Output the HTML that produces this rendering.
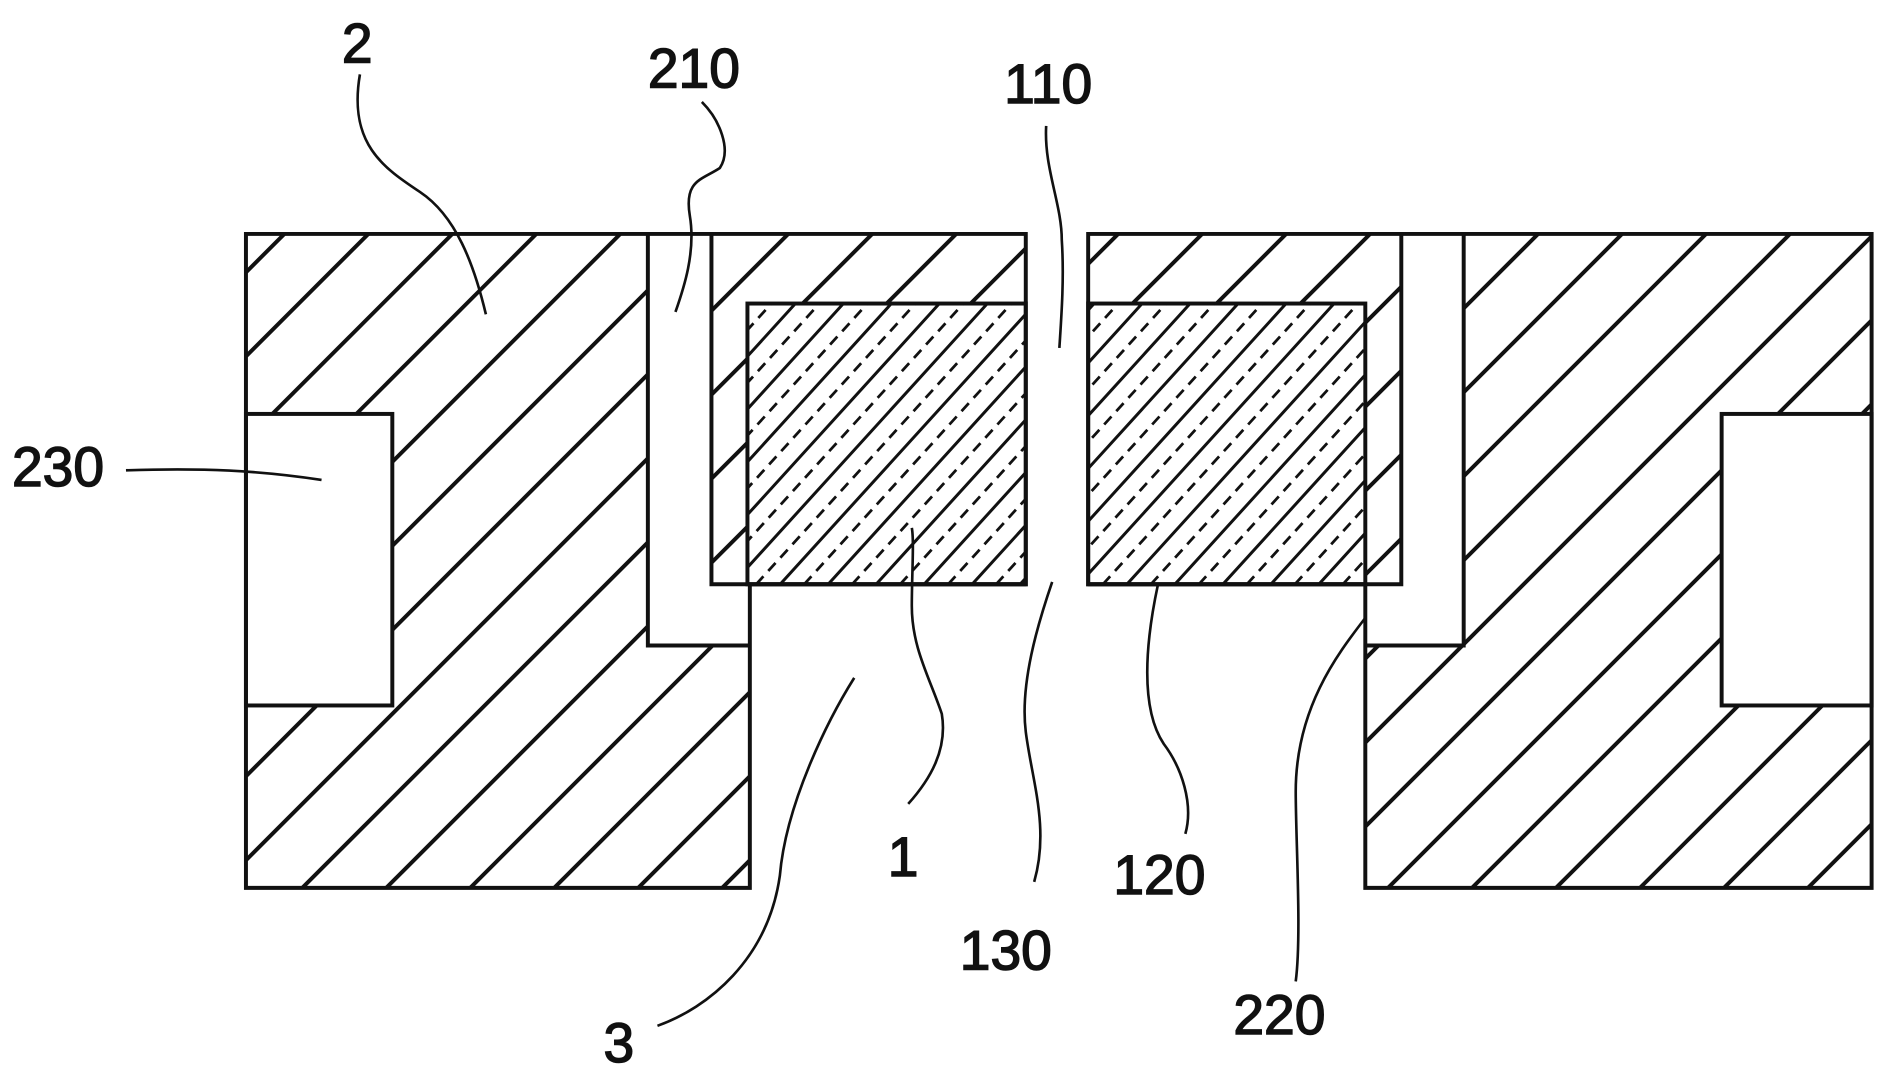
<!DOCTYPE html>
<html><head><meta charset="utf-8"><style>
html,body{margin:0;padding:0;background:#fff;}
svg{display:block;}
text{font-family:"Liberation Sans","DejaVu Sans",sans-serif;font-size:46px;fill:#111;stroke:#111;stroke-width:1.2px;}
</style></head><body>
<svg id="s" width="1880" height="1075" viewBox="0 0 1567 896" preserveAspectRatio="none" xmlns="http://www.w3.org/2000/svg">
<defs>
<clipPath id="cl"><path d="M205,195 H855 V487 H625 V740 H205 Z"/></clipPath>
<clipPath id="cr"><path d="M907,195 H1560 V740 H1138 V487 H907 Z"/></clipPath>
<clipPath id="c1"><rect x="623" y="253" width="232" height="234"/></clipPath>
<clipPath id="c2"><rect x="907" y="253" width="231" height="234"/></clipPath>
</defs>
<g id="hl" clip-path="url(#cl)" stroke="#111" stroke-width="3.3"></g>
<g id="hr" clip-path="url(#cr)" stroke="#111" stroke-width="3.3"></g>
<g fill="#fff" stroke="none">
<rect x="540" y="195" width="53" height="343"/>
<rect x="540" y="487" width="85" height="51"/>
<rect x="205" y="345" width="122" height="243"/>
<rect x="1138" y="487" width="82" height="51"/>
<rect x="1168" y="195" width="52" height="343"/>
<rect x="1435" y="345" width="125" height="243"/>
<rect x="623" y="253" width="232" height="234"/>
<rect x="907" y="253" width="231" height="234"/>
</g>
<g id="k1" clip-path="url(#c1)" stroke="#111"></g>
<g id="k2" clip-path="url(#c2)" stroke="#111"></g>
<g stroke="#111" stroke-width="3.3" fill="none">
<path d="M205,195 H855 V487 H625 V740 H205 Z"/>
<path d="M540,195 V538 H625 M593,195 V487 H855"/>
<rect x="205" y="345" width="122" height="243"/>
<rect x="623" y="253" width="232" height="234"/>
<path d="M907,195 H1560 V740 H1138 V487 H907 Z"/>
<path d="M1168,195 V487 H907 M1220,195 V538 H1138"/>
<rect x="1435" y="345" width="125" height="243"/>
<rect x="907" y="253" width="231" height="234"/>
<g stroke-width="2.2">
<path d="M300,62 C290,120 320,140 350,160 C380,180 395,220 405,262"/>
<path d="M585,85 C600,100 610,125 600,140 C585,150 570,150 575,180 C580,210 570,240 563,260"/>
<path d="M872,105 C870,140 885,170 885,200 C887,230 885,260 883,290"/>
<path d="M105,392 C170,390 215,392 268,400"/>
<path d="M757,670 C775,650 790,625 785,595 C775,565 760,540 760,505 C760,480 762,450 760,440"/>
<path d="M877,485 C865,520 850,570 855,610 C860,650 875,690 862,735"/>
<path d="M988,695 C995,670 985,640 970,620 C950,590 955,535 965,488"/>
<path d="M1080,818 C1085,780 1080,700 1080,660 C1080,590 1115,545 1138,515"/>
<path d="M548,855 C590,840 640,800 650,730 C655,670 690,600 712,565"/>
</g>
</g>
<text x="285" y="52">2</text>
<text x="540" y="73">210</text>
<text x="837" y="86">110</text>
<text x="10" y="405">230</text>
<text x="740" y="730">1</text>
<text x="928" y="745">120</text>
<text x="800" y="808">130</text>
<text x="1028" y="862">220</text>
<text x="503" y="885">3</text>
</svg>
<script>
(function(){
var NS="http://www.w3.org/2000/svg";
function hatch(id,x0,x1,y0,y1,period,offset,slope,dash,sw){
  var g=document.getElementById(id);
  var h=y1-y0;
  for(var x=x0-h/slope+offset-period*2;x<x1+period;x+=period){
    var l=document.createElementNS(NS,"line");
    l.setAttribute("x1",x);l.setAttribute("y1",y1);
    l.setAttribute("x2",x+h/slope);l.setAttribute("y2",y0);
    if(dash){l.setAttribute("stroke-dasharray",dash);}
    l.setAttribute("stroke-width",sw);
    g.appendChild(l);
  }
}
hatch("hl",205,855,195,740,70,32,1,null,3.3);
hatch("hr",907,1560,195,740,70,25,1,null,3.3);
hatch("k1",623,855,253,487,40,0,1.1,null,2.5);
hatch("k1",623,855,253,487,40,20,1.1,"9 6",2.3);
hatch("k2",907,1138,253,487,40,5,1.1,null,2.5);
hatch("k2",907,1138,253,487,40,25,1.1,"9 6",2.3);
})();
</script>
</body></html>
